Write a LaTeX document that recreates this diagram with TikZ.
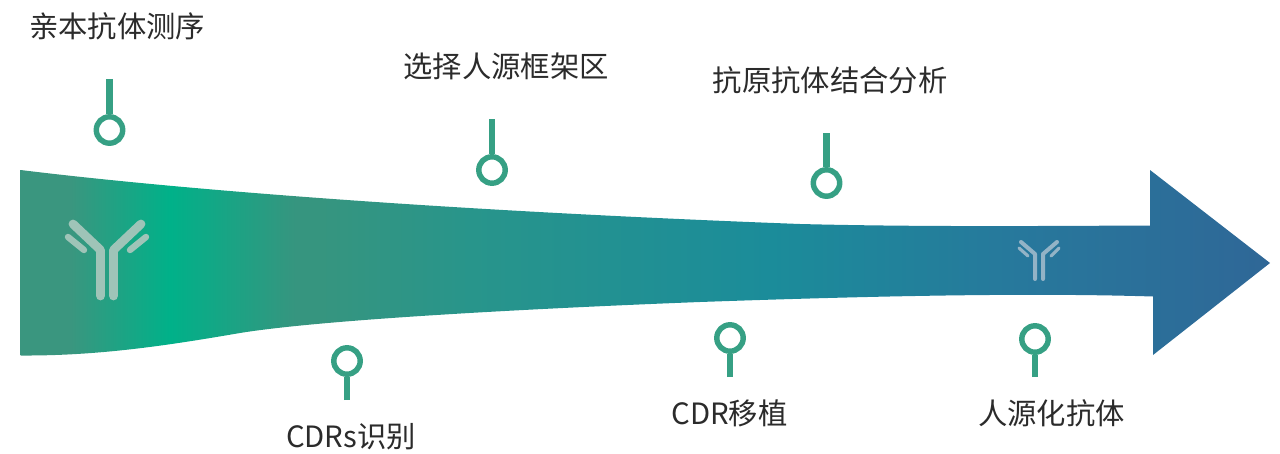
\documentclass[tikz,border=0pt]{standalone}
\usepackage{fontspec}
\setmainfont{Noto Sans CJK SC}
\usepackage{xcolor}
\usepackage{tikz}
\definecolor{pingreen}{HTML}{36A084}
\definecolor{labelgray}{HTML}{2B2B2B}
\definecolor{flowa}{HTML}{3A967F}
\definecolor{flowb}{HTML}{00B189}
\definecolor{flowc}{HTML}{36957F}
\definecolor{flowd}{HTML}{28958B}
\definecolor{flowe}{HTML}{1B8C9A}
\definecolor{flowf}{HTML}{27789C}
\definecolor{flowg}{HTML}{2F6797}
\definecolor{bigabcolor}{HTML}{9FC4B8}
\definecolor{smallabcolor}{HTML}{93B3C6}
% 25bp is the left end of the arrow, 75bp the tip
\pgfdeclarehorizontalshading{flowshade}{100bp}{color(0bp)=(flowa); color(25bp)=(flowa); color(27bp)=(flowa); color(31bp)=(flowb); color(36bp)=(flowc); color(37bp)=(flowc); color(43bp)=(flowd); color(55bp)=(flowe); color(65bp)=(flowf); color(75bp)=(flowg); color(100bp)=(flowg)}
\tikzstyle{pin} = [circle, draw=pingreen, line width=4.1pt, minimum size=19.8pt, inner sep=0pt]
\tikzstyle{pinline} = [draw=pingreen, line width=4.7pt]
\tikzstyle{steplabel} = [font=\fontsize{22pt}{26pt}\selectfont, text=labelgray, inner sep=0pt]
\tikzstyle{bigab} = [bigabcolor, line width=6.6pt, line cap=round, line join=round]
\tikzstyle{bigabarm} = [bigabcolor, line width=4.8pt, line cap=round]
\tikzstyle{smallab} = [smallabcolor, line width=3pt, line cap=round, line join=round]
\tikzstyle{smallabarm} = [smallabcolor, line width=2.4pt, line cap=round]

\begin{document}
\begin{tikzpicture}[x=0.75pt, y=-0.75pt]
  \useasboundingbox (0,0) rectangle (1280,453);

  % Arrow
  \shade[shading=flowshade] (20.5,170) .. controls (200,192) and (480,212) .. (800,224)
    .. controls (920,227) and (1040,226) .. (1150,225.5) -- (1150,170) -- (1270,263)
    -- (1153,355) -- (1153,296.5) .. controls (1040,293) and (900,295) .. (700,302)
    .. controls (520,309) and (320,320) .. (240,333)
    .. controls (170,345) and (100,356) .. (20.5,355.5) -- cycle;

  % Antibodies
  \draw[bigab] (73,224) -- (100.5,250) -- (100.5,296);
  \draw[bigab] (141,224) -- (113.5,250) -- (113.5,296);
  \draw[bigabarm] (68,237) -- (84,250);
  \draw[bigabarm] (146,237) -- (130,250);
  \draw[smallab] (1021,242) -- (1035,254) -- (1035,279);
  \draw[smallab] (1057,242) -- (1043,254) -- (1043,279);
  \draw[smallabarm] (1019,248) -- (1028,256);
  \draw[smallabarm] (1059,248) -- (1051,256);

  % Pins
  \node (pin1) [pin] at (109.5,130) {};
  \node (pin2) [pin] at (347,361) {};
  \node (pin3) [pin] at (492,170) {};
  \node (pin4) [pin] at (730,338) {};
  \node (pin5) [pin] at (826.5,183) {};
  \node (pin6) [pin] at (1035,339) {};

  \coordinate (end1) at (109.5,79);
  \coordinate (end2) at (347,400);
  \coordinate (end3) at (492,119);
  \coordinate (end4) at (730,377);
  \coordinate (end5) at (826.5,133);
  \coordinate (end6) at (1035,377);

  \draw [pinline] (end1) -- (pin1);
  \draw [pinline] (end2) -- (pin2);
  \draw [pinline] (end3) -- (pin3);
  \draw [pinline] (end4) -- (pin4);
  \draw [pinline] (end5) -- (pin5);
  \draw [pinline] (end6) -- (pin6);

  % Labels
  \node (label1) [steplabel] at (117,26) {亲本抗体测序};
  \node (label2) [steplabel] at (351,437) {CDRs识别};
  \node (label3) [steplabel] at (506,66) {选择人源框架区};
  \node (label4) [steplabel] at (729.5,413) {CDR移植};
  \node (label5) [steplabel] at (830,80) {抗原抗体结合分析};
  \node (label6) [steplabel] at (1051.5,413) {人源化抗体};

\end{tikzpicture}
\end{document}
